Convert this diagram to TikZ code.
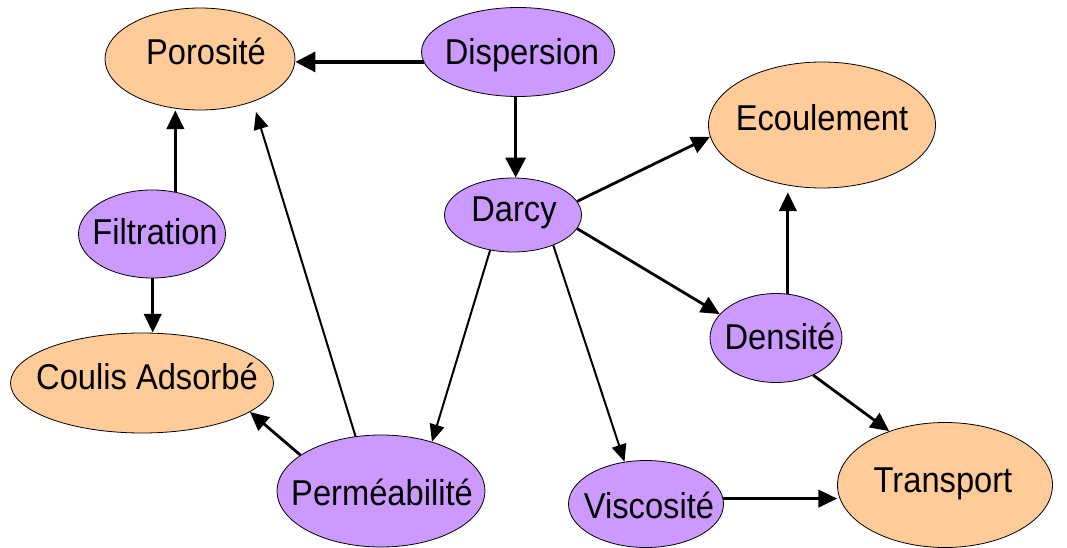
\documentclass[tikz,border=0pt]{standalone}
\usepackage{fontspec}
\setmainfont{Liberation Sans}
\usetikzlibrary{shapes.geometric,arrows.meta}
\definecolor{orangefill}{HTML}{FFCC99}
\definecolor{purplefill}{HTML}{CC99FF}
\begin{document}
\begin{tikzpicture}[x=0.75pt,y=-0.75pt,
  ell/.style={ellipse, draw=black, line width=0.6pt, inner sep=0pt},
  org/.style={ell, fill=orangefill},
  pur/.style={ell, fill=purplefill},
  lbl/.style={anchor=base, inner sep=0pt, font=\fontsize{24.5}{28}\selectfont},
  thickarr/.style={-{Triangle[length=15pt,width=15pt]}, line width=2.5pt},
  medarr/.style={-{Triangle[length=14pt,width=13pt]}, line width=2.1pt},
  thinarr/.style={-{Triangle[length=13pt,width=11pt]}, line width=1.5pt}]
\path[fill=white] (0,0) rectangle (1067,548);
\useasboundingbox (0,0) rectangle (1067,548);
% ellipses
\node[org, minimum width=142.5pt, minimum height=76.5pt] (poro) at (200,59) {};
\node[pur, minimum width=144.75pt, minimum height=66.75pt] (disp) at (518,52) {};
\node[pur, minimum width=102.75pt, minimum height=55.5pt] (darcy) at (513,215) {};
\node[pur, minimum width=110.25pt, minimum height=66pt] (filt) at (152,234) {};
\node[org, minimum width=170.25pt, minimum height=94.5pt] (ecou) at (822,125) {};
\node[pur, minimum width=99pt, minimum height=66.75pt] (dens) at (776,338) {};
\node[org, minimum width=161.25pt, minimum height=93.75pt] (trans) at (945,485) {};
\node[pur, minimum width=116.25pt, minimum height=65.25pt] (visc) at (646,504) {};
\node[pur, minimum width=156pt, minimum height=84pt] (perm) at (381,491) {};
\node[org, minimum width=197.25pt, minimum height=75pt] (coulis) at (142,383) {};
% labels
\node[lbl] (poro-t) at (206,65) {\scalebox{1}[1.1]{Porosité}};
\node[lbl] (disp-t) at (522,65) {\scalebox{1}[1.1]{Dispersion}};
\node[lbl] (darcy-t) at (514,222) {\scalebox{1}[1.1]{Darcy}};
\node[lbl] (filt-t) at (155,245) {\scalebox{1}[1.1]{Filtration}};
\node[lbl] (ecou-t) at (822,131) {\scalebox{1}[1.1]{Ecoulement}};
\node[lbl] (dens-t) at (780,350) {\scalebox{1}[1.1]{Densité}};
\node[lbl] (trans-t) at (943,493) {\scalebox{1}[1.1]{Transport}};
\node[lbl] (visc-t) at (649,518) {\scalebox{1}[1.1]{Viscosité}};
\node[lbl] (coulis-t) at (147,390) {\scalebox{1}[1.1]{Coulis Adsorbé}};
\node[lbl] (perm-t) at (382,505) {\scalebox{1}[1.1]{Perméabilité}};
% connectors
\draw[thickarr] (disp.186) -- (disp.186 -| poro.east);
\draw[thickarr] (disp.-93) -- (disp.-93 |- darcy.north);
\draw[medarr] (filt.61) -- (filt.61 |- poro.south);
\draw[medarr] (filt.-89) -- (filt.-89 |- coulis.north);
\draw[thinarr, shorten >=8pt] (perm.115) -- (poro.-39);
\draw[medarr] (perm.156) -- (coulis.-15);
\draw[thinarr] (darcy.237) -- (perm.44);
\draw[thinarr] (darcy.-37) -- (visc.117);
\draw[medarr] (darcy.12) -- (ecou.186);
\draw[medarr] (darcy.-12) -- (dens.157);
\draw[medarr, shorten >=3pt] (dens.75) -- (dens.75 |- ecou.south);
\draw[medarr] (dens.-45) -- (trans.136);
\draw[medarr] (visc.4) -- (visc.4 -| trans.west);
\end{tikzpicture}
\end{document}
